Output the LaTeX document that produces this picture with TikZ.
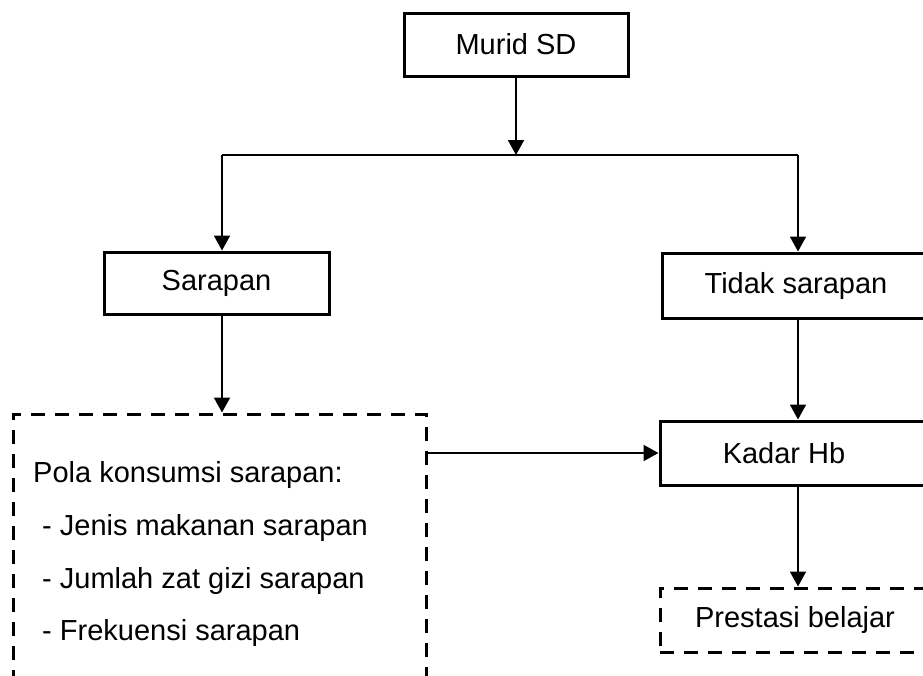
\documentclass[tikz,border=0pt]{standalone}
\usepackage{fontspec}
\setmainfont{Liberation Sans}
\usetikzlibrary{arrows.meta}
\begin{document}
\begin{tikzpicture}[x=1pt,y=-1pt,
  box/.style={draw,line width=3pt,inner sep=0pt,font=\fontsize{29}{35}\selectfont},
  dbox/.style={box,dash pattern=on 14pt off 10pt},
  conn/.style={line width=2pt,-{Triangle[length=15pt,width=16pt]}},
  txt/.style={inner sep=0pt,align=left,font=\fontsize{29}{52.7}\selectfont}
]
\useasboundingbox (0,0) rectangle (923,675);
\clip (0,0) rectangle (923,675);
\fill[white] (0,0) rectangle (923,675);
\node[box,minimum width=224pt,minimum height=63pt] (murid) at (516,44.5) {Murid SD};
\node[box,minimum width=225pt,minimum height=62pt] (sarapan) at (216.5,283) {Sarapan};
\node[box,minimum width=268pt,minimum height=65pt] (tidak) at (796,285.5) {Tidak sarapan};
\node[box,minimum width=270pt,minimum height=64pt] (kadar) at (795,453) {Kadar Hb\hspace*{22pt}};
\node[dbox,minimum width=270pt,minimum height=64pt] (prestasi) at (795,620) {Prestasi belajar};
\node[dbox,minimum width=413pt,minimum height=286pt] (pola) at (219.5,557) {};
\node[txt,anchor=north west] (polatext) at (33,461.5) {Pola konsumsi sarapan:\\
\hspace*{9pt}- Jenis makanan sarapan\\
\hspace*{9pt}- Jumlah zat gizi sarapan\\
\hspace*{9pt}- Frekuensi sarapan};
\coordinate (hl) at (222,155);
\coordinate (hr) at (798,155);
\draw[line width=1.3pt] (hl) -- (hr);
\draw[conn] (murid.south) -- (murid.south |- hl);
\draw[conn] (hl) -- (hl |- sarapan.north);
\draw[conn] (hr) -- (hr |- tidak.north);
\draw[conn] (sarapan.south -| hl) -- (hl |- pola.north);
\draw[conn] (tidak.south -| hr) -- (hr |- kadar.north);
\draw[conn] (kadar.south -| hr) -- (hr |- prestasi.north);
\draw[conn] (kadar.west -| pola.east) -- (kadar.west);
\end{tikzpicture}
\end{document}
